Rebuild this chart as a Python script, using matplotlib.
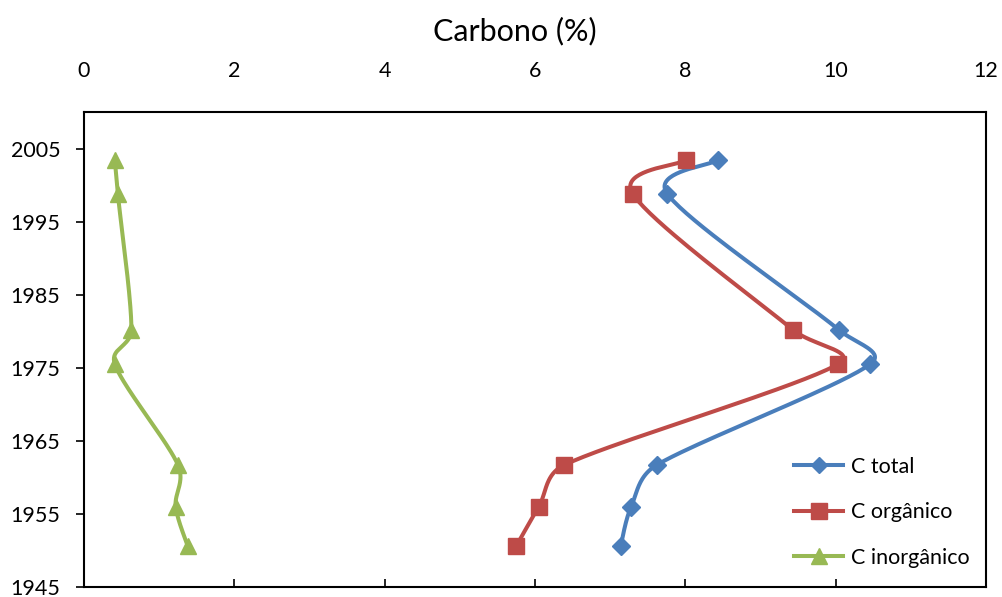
import numpy as np
import matplotlib
matplotlib.use("Agg")
import matplotlib.pyplot as plt
from matplotlib.lines import Line2D

plt.rcParams['font.family'] = ['Lato', 'DejaVu Sans']

# Sample years (core depth dated)
anos = [2003.4, 1998.8, 1980.2, 1975.5, 1961.7, 1956.0, 1950.6]
c_total = [8.43, 7.76, 10.04, 10.46, 7.62, 7.28, 7.14]
c_organico = [8.01, 7.30, 9.43, 10.03, 6.39, 6.05, 5.75]
c_inorganico = [0.41, 0.45, 0.63, 0.41, 1.25, 1.22, 1.38]

series_labels = ["C total", "C orgânico", "C inorgânico"]
x_ticks = [0, 2, 4, 6, 8, 10, 12]
y_ticks = [1945, 1955, 1965, 1975, 1985, 1995, 2005]

colors = ["#4A7EBB", "#BE4B48", "#98B954"]
markers = ["D", "s", "^"]
msizes = [9, 12, 12]

fig = plt.figure(figsize=(10.03, 5.97), dpi=100)
ax = fig.add_axes([84 / 1003, 1 - 587 / 597, (986 - 84) / 1003, (587 - 112) / 597])
ax.set_xlim(0, 12)
ax.set_ylim(1945, 2010)


def smooth_curve(ax, xs, ys, n=40, k=0.45):
    """Smoothed line in display space (cubic Bezier with clamped tangents)."""
    pts = ax.transData.transform(np.column_stack([xs, ys]))
    P = np.vstack([pts[0], pts, pts[-1]])
    out = []
    t = np.linspace(0, 1, n)[:, None]

    def ctrl(tan, seg_len):
        L = np.hypot(*tan)
        if L == 0:
            return tan
        lim = k * seg_len
        return tan if L <= lim else tan * (lim / L)

    for i in range(1, len(P) - 2):
        p0, p3 = P[i], P[i + 1]
        seg_len = np.hypot(*(p3 - p0))
        c1 = p0 + ctrl((P[i + 1] - P[i - 1]) / 6.0, seg_len)
        c2 = p3 - ctrl((P[i + 2] - P[i]) / 6.0, seg_len)
        seg = ((1 - t) ** 3) * p0 + 3 * ((1 - t) ** 2) * t * c1 + 3 * (1 - t) * t ** 2 * c2 + t ** 3 * p3
        out.append(seg if i == 1 else seg[1:])
    curve = np.vstack(out)
    data = ax.transData.inverted().transform(curve)
    return data[:, 0], data[:, 1]


handles = []
for vals, col, mk, ms, lab in zip([c_total, c_organico, c_inorganico], colors, markers, msizes, series_labels):
    sx, sy = smooth_curve(ax, vals, anos)
    ax.plot(sx, sy, color=col, lw=2.9, solid_capstyle='round', zorder=2)
    ax.plot(vals, anos, linestyle='none', marker=mk, markersize=ms, color=col,
            markeredgecolor=col, zorder=3)
    handles.append(Line2D([], [], color=col, lw=2.9, marker=mk, markersize=ms * 0.95,
                          markeredgecolor=col, label=lab))

ax.set_xticks(x_ticks)
ax.set_yticks(y_ticks)
ax.tick_params(axis='x', which='both', direction='in', length=6, width=1.2,
               bottom=True, top=False, labelbottom=False, labeltop=True,
               labelsize=15.5, pad=22)
ax.tick_params(axis='y', direction='out', length=6, width=1.2, labelsize=15.5, pad=11)
for sp in ax.spines.values():
    sp.set_linewidth(1.5)
    sp.set_color('black')

fig.text(515 / 1003, 1 - 31 / 597, "Carbono (%)", ha='center', va='center', fontsize=22)

leg = ax.legend(handles=handles, loc='upper left',
                bbox_to_anchor=(783 / 1003, 1 - 446 / 597), bbox_transform=fig.transFigure,
                frameon=False, fontsize=15.5, handlelength=2.3, handletextpad=0.35,
                labelspacing=1.18, borderpad=0)

fig.savefig("out.png", dpi=100)
